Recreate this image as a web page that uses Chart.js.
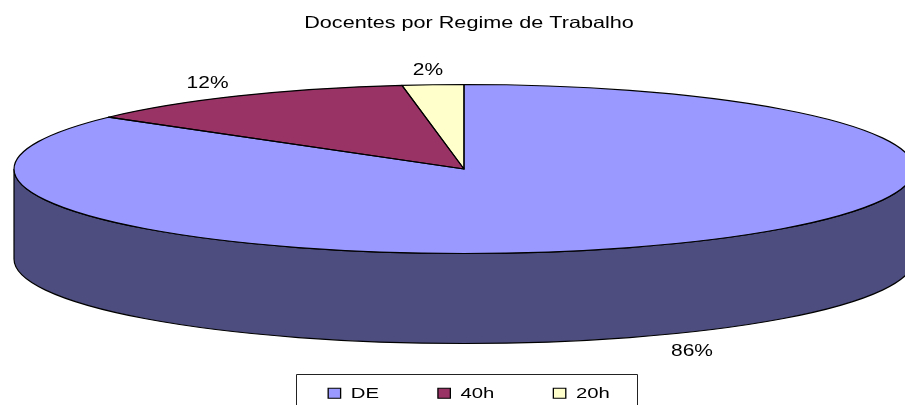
<!DOCTYPE html>
<html><head><meta charset="utf-8">
<style>html,body{margin:0;padding:0;background:#fff;overflow:hidden}#w{width:905px;height:405px}</style>
<script src="https://cdn.jsdelivr.net/npm/chart.js@4"></script></head>
<body><div id="w"><canvas id="c" width="905" height="405"></canvas></div>
<script>
const categories = ['DE', '40h', '20h'];
const shares = [85.5, 12.3, 2.2];
const sliceColors = ['#9999FF', '#993366', '#FFFFCC'];
const wallColor = '#4D4D80';
const chartTitle = 'Docentes por Regime de Trabalho';

// Presentation of the tilted disc
const disc = {cx: 464, cy: 169, rx: 450, ry: 84.5, depth: 90};
const labelOffsets = [[30, 17], [-31, -12], [-5, -14]];
const frame = {x: 296.5, y: 374.5, w: 341, h: 40};
const legendDrop = 6;
const textStretch = 1.31;
const FONT = '"Liberation Sans", Arial, sans-serif';

function withDisc(ctx, el, dy, fn) {
  ctx.save();
  ctx.translate(disc.cx, disc.cy + dy);
  ctx.scale(disc.rx / el.outerRadius, disc.ry / el.outerRadius);
  ctx.translate(-el.x, -el.y);
  fn();
  ctx.restore();
}
function stretchBox(chart, box) {
  const orig = box.draw;
  box.draw = function (area) {
    const ctx = chart.ctx, mid = (box.left + box.right) / 2;
    ctx.save();
    ctx.translate(mid, 0); ctx.scale(textStretch, 1); ctx.translate(-mid, 0);
    orig.call(box, area);
    ctx.restore();
  };
}
const tilt = {
  id: 'tilt',
  afterLayout(chart) {
    chart.legend.top += legendDrop; chart.legend.bottom += legendDrop;
    if (!chart.$stretched) { chart.$stretched = true; stretchBox(chart, chart.titleBlock); stretchBox(chart, chart.legend); }
  },
  beforeDatasetsDraw(chart) {
    const ctx = chart.ctx, arcs = chart.getDatasetMeta(0).data, el = arcs[0];
    ctx.beginPath();
    withDisc(ctx, el, disc.depth, () => ctx.arc(el.x, el.y, el.outerRadius, Math.PI, 0, true));
    withDisc(ctx, el, 0, () => ctx.arc(el.x, el.y, el.outerRadius, 0, Math.PI, false));
    ctx.closePath();
    ctx.fillStyle = wallColor;
    ctx.fill();
    ctx.strokeStyle = '#000'; ctx.lineWidth = 1.2;
    ctx.stroke();
    ctx.save();
    ctx.translate(disc.cx, disc.cy);
    ctx.scale(disc.rx / el.outerRadius, disc.ry / el.outerRadius);
    ctx.translate(-el.x, -el.y);
  },
  afterDatasetsDraw(chart) {
    const ctx = chart.ctx, arcs = chart.getDatasetMeta(0).data;
    ctx.restore();
    ctx.strokeStyle = '#000'; ctx.lineWidth = 1.2; ctx.lineJoin = 'round';
    arcs.forEach(a => {
      ctx.beginPath();
      withDisc(ctx, a, 0, () => {
        ctx.moveTo(a.x, a.y);
        ctx.arc(a.x, a.y, a.outerRadius, a.startAngle, a.endAngle);
        ctx.closePath();
      });
      ctx.stroke();
    });
    ctx.fillStyle = '#000';
    ctx.font = '16px ' + FONT;
    ctx.textAlign = 'center'; ctx.textBaseline = 'middle';
    const total = shares.reduce((p, v) => p + v, 0);
    arcs.forEach((a, i) => {
      const mid = (a.startAngle + a.endAngle) / 2;
      const px = disc.cx + disc.rx * Math.cos(mid);
      const py = disc.cy + disc.ry * Math.sin(mid) + (Math.sin(mid) > 0 ? disc.depth : 0);
      ctx.save();
      ctx.translate(px + labelOffsets[i][0], py + labelOffsets[i][1]);
      ctx.scale(textStretch, 1);
      ctx.fillText(Math.round(shares[i] / total * 100) + '%', 0, 0);
      ctx.restore();
    });
  },
  afterDraw(chart) {
    const ctx = chart.ctx;
    ctx.strokeStyle = '#222'; ctx.lineWidth = 1;
    ctx.strokeRect(frame.x, frame.y, frame.w, frame.h);
  }
};
new Chart(document.getElementById('c'), {
  type: 'pie',
  data: {labels: categories, datasets: [{data: shares, backgroundColor: sliceColors, borderWidth: 0}]},
  plugins: [tilt],
  options: {
    responsive: false, animation: false,
    events: [],
    layout: {padding: {left: 33, right: 0, top: 0, bottom: 0}},
    plugins: {
      tooltip: {enabled: false},
      title: {display: true, text: chartTitle, color: '#000', font: {family: FONT, size: 16.5, weight: 'normal'}, padding: {top: 14, bottom: 5}},
      legend: {
        position: 'bottom',
        labels: {
          color: '#000', font: {family: FONT, size: 15.5}, boxWidth: 9.5, boxHeight: 10, padding: 45,
          generateLabels(chart) {
            return categories.map((t, i) => ({text: t, fillStyle: sliceColors[i], strokeStyle: '#000', lineWidth: 1, index: i, hidden: false}));
          }
        }
      }
    }
  }
});
</script></body></html>
